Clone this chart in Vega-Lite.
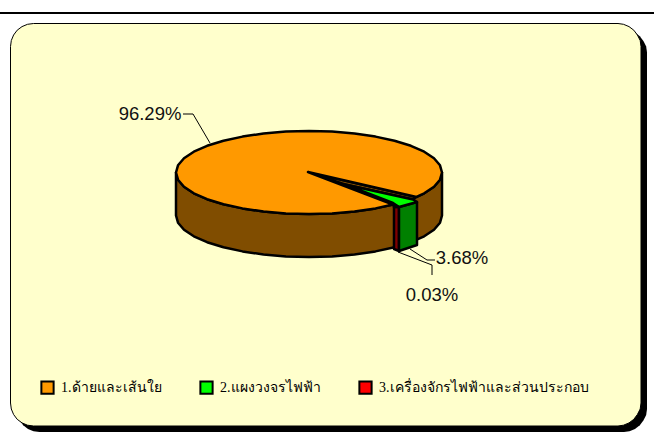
{
"$schema":"https://vega.github.io/schema/vega-lite/v6.json",
"width":654,"height":437,"padding":0,"autosize":"none","background":"white",
"view":{"stroke":null},
"projection":{"type":"identity","scale":1,"translate":[0,0]},
"datasets":{
"frame":[
{"type":"Feature","properties":{"part":"rule"},"geometry":{"type":"Polygon","coordinates":[[[0,12],[654,12],[654,14],[0,14],[0,12]]]}},
{"type":"Feature","properties":{"part":"shadow"},"geometry":{"type":"Polygon","coordinates":[[[16.5,52.5],[17.3,46.5],[19.6,41],[23.2,36.2],[28,32.6],[33.5,30.3],[39.5,29.5],[624,29.5],[629.5,30.3],[635,32.6],[639.8,36.2],[643.4,41],[646.2,46.5],[647,52.5],[647,409],[646.2,415],[643.4,420.5],[639.8,425.3],[635,428.9],[629.5,431.2],[624,432],[39.5,432],[33.5,431.2],[28,428.9],[23.2,425.3],[19.6,420.5],[17.3,415],[16.5,409],[16.5,52.5]]]}}
],
"panel":[
{"type":"Feature","properties":{"part":"panel"},"geometry":{"type":"Polygon","coordinates":[[[10.5,46.5],[11.3,40.5],[13.6,35],[17.2,30.2],[22,26.6],[27.5,24.3],[33.5,23.5],[618,23.5],[623.5,24.3],[629,26.6],[633.8,30.2],[637.4,35],[640.2,40.5],[641,46.5],[641,403],[640.2,409],[637.4,414.5],[633.8,419.3],[629,422.9],[623.5,425.2],[618,426],[33.5,426],[27.5,425.2],[22,422.9],[17.2,419.3],[13.6,414.5],[11.3,409],[10.5,403],[10.5,46.5]]]}}
],
"walls":[
{"type":"Feature","properties":{"slice":"1.ด้ายและเส้นใย"},"geometry":{"type":"Polygon","coordinates":[[[176,172.5],[176,215.5],[178,222.7],[184,229.7],[193.8,236.3],[207.1,242.2],[223.5,247.3],[242.5,251.4],[263.5,254.5],[285.9,256.4],[309,257],[332.1,256.4],[354.5,254.5],[375.5,251.4],[394.5,247.3],[410.9,242.2],[424.2,236.3],[434,229.7],[440,222.7],[442,215.5],[442,172.5],[440,179.7],[434,186.7],[424.2,193.3],[410.9,199.2],[394.5,204.3],[375.5,208.4],[354.5,211.5],[332.1,213.4],[309,214],[285.9,213.4],[263.5,211.5],[242.5,208.4],[223.5,204.3],[207.1,199.2],[193.8,193.3],[184,186.7],[178,179.7],[176,172.5]]]}},
{"type":"Feature","properties":{"slice":"1.ด้ายและเส้นใย"},"geometry":{"type":"Polygon","coordinates":[[[308,172],[416,197],[413,199.5],[345,184.5],[308,172]]]}},
{"type":"Feature","properties":{"slice":"3.เครื่องจักรไฟฟ้าและส่วนประกอบ"},"geometry":{"type":"Polygon","coordinates":[[[394,207],[399,207],[399,251],[394,249],[394,207]]]}},
{"type":"Feature","properties":{"slice":"2.แผงวงจรไฟฟ้า"},"geometry":{"type":"Polygon","coordinates":[[[399,207],[417,202],[417,245],[399,251],[399,207]]]}}
],
"tops":[
{"type":"Feature","properties":{"slice":"1.ด้ายและเส้นใย"},"geometry":{"type":"Polygon","coordinates":[[[308,172],[416.5,197],[424.2,193.3],[434,186.7],[440,179.7],[442,172.5],[440,165.3],[434,158.3],[424.2,151.7],[410.9,145.8],[394.5,140.7],[375.5,136.6],[354.5,133.5],[332.1,131.6],[309,131],[285.9,131.6],[263.5,133.5],[242.5,136.6],[223.5,140.7],[207.1,145.8],[193.8,151.7],[184,158.3],[178,165.3],[176,172.5],[178,179.7],[184,186.7],[193.8,193.3],[207.1,199.2],[223.5,204.3],[242.5,208.4],[263.5,211.5],[285.9,213.4],[309,214],[332.1,213.4],[354.5,211.5],[375.5,208.4],[393,204.5],[308,172]]]}},
{"type":"Feature","properties":{"slice":"2.แผงวงจรไฟฟ้า"},"geometry":{"type":"Polygon","coordinates":[[[345,184.5],[393,203],[399,207],[417,202],[413,199.5],[345,184.5]]]}},
{"type":"Feature","properties":{"slice":"3.เครื่องจักรไฟฟ้าและส่วนประกอบ"},"geometry":{"type":"Polygon","coordinates":[[[393,204],[394,207],[399,207],[393,204]]]}}
],
"leaders":[
{"type":"Feature","properties":{"slice":"1.ด้ายและเส้นใย"},"geometry":{"type":"LineString","coordinates":[[183,114],[193,114],[210,143]]}},
{"type":"Feature","properties":{"slice":"2.แผงวงจรไฟฟ้า"},"geometry":{"type":"LineString","coordinates":[[410,249],[427,260],[435,260]]}},
{"type":"Feature","properties":{"slice":"3.เครื่องจักรไฟฟ้าและส่วนประกอบ"},"geometry":{"type":"LineString","coordinates":[[398,252],[432,265],[432,275]]}}
],
"shares":[
{"slice":"1.ด้ายและเส้นใย","share":0.9629,"x":150,"y":114},
{"slice":"2.แผงวงจรไฟฟ้า","share":0.0368,"x":462,"y":258},
{"slice":"3.เครื่องจักรไฟฟ้าและส่วนประกอบ","share":0.0003,"x":432,"y":295}
]
},
"resolve":{"scale":{"color":"independent"}},
"layer":[
{"data":{"name":"frame"},"mark":{"type":"geoshape","fill":"black","stroke":null}},
{"data":{"name":"panel"},"mark":{"type":"geoshape","fill":"#ffffcc","stroke":"black","strokeWidth":1}},
{"data":{"name":"walls"},"mark":{"type":"geoshape","stroke":"black","strokeWidth":2.5,"strokeJoin":"round"},
 "encoding":{"color":{"field":"properties.slice","type":"nominal","legend":null,
  "scale":{"domain":["1.ด้ายและเส้นใย","2.แผงวงจรไฟฟ้า","3.เครื่องจักรไฟฟ้าและส่วนประกอบ"],"range":["#804d00","#008000","#800000"]}}}},
{"data":{"name":"tops"},"mark":{"type":"geoshape","stroke":"black","strokeWidth":2.5,"strokeJoin":"round"},
 "encoding":{"color":{"field":"properties.slice","type":"nominal",
  "scale":{"domain":["1.ด้ายและเส้นใย","2.แผงวงจรไฟฟ้า","3.เครื่องจักรไฟฟ้าและส่วนประกอบ"],"range":["#ff9900","#00ff00","#ff0000"]},
  "legend":{"title":null,"orient":"none","legendX":40,"legendY":380,"direction":"horizontal","columns":3,"symbolType":"square","symbolSize":150,"symbolStrokeWidth":2,"symbolStrokeColor":"black","symbolOpacity":1,"labelFont":"Liberation Serif","labelFontSize":14,"labelColor":"black","labelOffset":6,"columnPadding":34,"labelLimit":300}}}},
{"data":{"name":"leaders"},"mark":{"type":"geoshape","filled":false,"stroke":"black","strokeWidth":1}},
{"data":{"name":"shares"},"mark":{"type":"text","font":"Liberation Sans","fontSize":18.5,"color":"#111111","align":"center","baseline":"middle"},
 "encoding":{"longitude":{"field":"x","type":"quantitative"},"latitude":{"field":"y","type":"quantitative"},"text":{"field":"share","type":"quantitative","format":".2%"}}}
]
}
